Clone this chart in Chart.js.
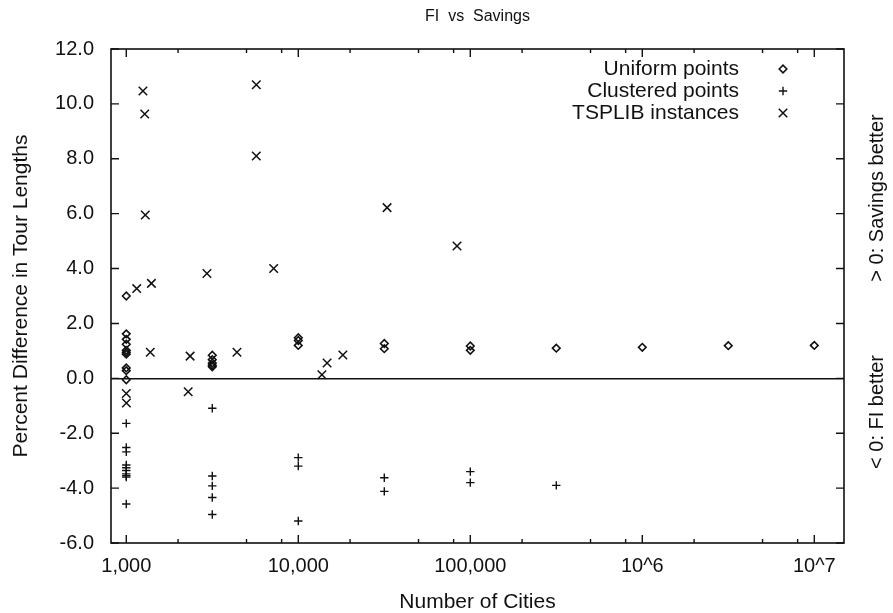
<!DOCTYPE html>
<html>
<head>
<meta charset="utf-8">
<script src="https://cdn.jsdelivr.net/npm/chart.js@4/dist/chart.umd.min.js"></script>
<style>
html,body{margin:0;padding:0;background:#fff;}
canvas{display:block;}
</style>
</head>
<body>
<canvas id="c" width="893" height="613"></canvas>
<script>
// ---- data ----
const seriesLabels = ["Uniform points", "Clustered points", "TSPLIB instances"];

const uniformN    = [1000,1000,1000,1000,1000,1000,1000,1000,1000,1000,
                     3162,3162,3162,3162,3162,
                     10000,10000,10000,
                     31623,31623,
                     100000,100000,
                     316228, 1000000, 3162278, 10000000];
const uniformVals = [3.0,1.62,1.42,1.24,1.02,0.95,0.88,0.38,0.28,-0.05,
                     0.84,0.68,0.56,0.48,0.42,
                     1.48,1.38,1.20,
                     1.27,1.08,
                     1.18,1.02,
                     1.10, 1.13, 1.19, 1.20];

const clusteredN    = [1000,1000,1000,1000,1000,1000,1000,1000,1000,1000,
                       3162,3162,3162,3162,3162,
                       10000,10000,10000,
                       31623,31623,
                       100000,100000,
                       316228];
const clusteredVals = [-1.64,-2.52,-2.68,-3.16,-3.26,-3.36,-3.48,-3.55,-3.60,-4.58,
                       -1.09,-3.56,-3.92,-4.34,-4.96,
                       -2.89,-3.20,-5.20,
                       -3.62,-4.12,
                       -3.40,-3.80,
                       -3.90];

const tspN    = [1000,1002,1250,1280,1150,1400,1379,1290,2350,2290,2944,4400,5700,5700,7190,13720,14700,18160,32820,83700];
const tspVals = [-0.55,-0.90,10.47,9.63,3.27,3.46,0.95,5.95,0.81,-0.49,3.82,0.95,10.70,8.10,4.00,0.13,0.56,0.85,6.22,4.82];

const xTickValues = [1000, 10000, 100000, 1000000, 10000000];
const xTickLabels = ["1,000", "10,000", "100,000", "10^6", "10^7"];
const xMinorMultipliers = [2, 5, 8];
const yMin = -6, yMax = 12, yStep = 2;

const titleText = "FI  vs  Savings";
const xTitle = "Number of Cities";
const yTitle = "Percent Difference in Tour Lengths";
const rightTop = "> 0: Savings better";
const rightBottom = "< 0: FI better";

// ---- styling ----
const INK = '#111';
const FONT = '"Liberation Sans", Arial, Helvetica, sans-serif';

function pts(xs, ys){ return xs.map((x,i)=>({x:x, y:ys[i]})); }

const styles = [
  {pointStyle:'rectRot', radius:3.8, borderWidth:1.6},
  {pointStyle:'cross',   radius:4.2, borderWidth:1.4},
  {pointStyle:'crossRot',radius:6,   borderWidth:1.5}
];

const decorPlugin = {
  id:'decor',
  afterDraw(chart){
    const ctx = chart.ctx;
    const a = chart.chartArea;
    const xs = chart.scales.x, ys = chart.scales.y;
    ctx.save();
    ctx.strokeStyle = INK;
    ctx.lineWidth = 1.6;
    ctx.strokeRect(a.left, a.top, a.right - a.left, a.bottom - a.top);
    // ticks (inward, mirrored)
    ctx.lineWidth = 1.4;
    ctx.beginPath();
    const majorLen = 8, minorLen = 4;
    for (let d = 0; d < xTickValues.length; d++) {
      const base = xTickValues[d];
      const px = xs.getPixelForValue(base);
      if (px >= a.left && px <= a.right) {
        ctx.moveTo(px, a.bottom); ctx.lineTo(px, a.bottom - majorLen);
        ctx.moveTo(px, a.top); ctx.lineTo(px, a.top + majorLen);
      }
      for (const m of xMinorMultipliers) {
        const v = base * m;
        const p = xs.getPixelForValue(v);
        if (p > a.left && p < a.right) {
          ctx.moveTo(p, a.bottom); ctx.lineTo(p, a.bottom - minorLen);
          ctx.moveTo(p, a.top); ctx.lineTo(p, a.top + minorLen);
        }
      }
    }
    for (let v = yMin; v <= yMax; v += yStep) {
      const py = ys.getPixelForValue(v);
      ctx.moveTo(a.left, py); ctx.lineTo(a.left + majorLen, py);
      ctx.moveTo(a.right, py); ctx.lineTo(a.right - majorLen, py);
    }
    ctx.stroke();

    // texts
    ctx.fillStyle = INK;
    ctx.textAlign = 'center';
    ctx.textBaseline = 'middle';
    ctx.font = '16px ' + FONT;
    ctx.fillText(titleText, (a.left + a.right) / 2, 17);
    ctx.font = '21px ' + FONT;
    ctx.fillText(xTitle, (a.left + a.right) / 2, 602);

    ctx.save();
    ctx.translate(21, (a.top + a.bottom) / 2);
    ctx.rotate(-Math.PI / 2);
    ctx.fillText(yTitle, 0, 0);
    ctx.restore();

    ctx.font = '20px ' + FONT;
    ctx.save();
    ctx.translate(877, 198);
    ctx.rotate(-Math.PI / 2);
    ctx.fillText(rightTop, 0, 0);
    ctx.restore();
    ctx.save();
    ctx.translate(877, 412);
    ctx.rotate(-Math.PI / 2);
    ctx.fillText(rightBottom, 0, 0);
    ctx.restore();

    // legend (text right-aligned, symbol to the right)
    ctx.font = '21px ' + FONT;
    ctx.textAlign = 'right';
    const rowY = [69, 91, 113];
    chart.data.datasets.forEach((ds, i) => {
      ctx.fillStyle = INK;
      ctx.fillText(ds.label, 739, rowY[i]);
      ctx.fillStyle = 'rgba(0,0,0,0)';
      ctx.strokeStyle = INK;
      ctx.lineWidth = ds.borderWidth;
      Chart.helpers.drawPoint(ctx, {
        pointStyle: ds.pointStyle, radius: ds.radius, rotation: 0,
        borderWidth: ds.borderWidth
      }, 783, rowY[i]);
    });
    ctx.restore();
  }
};

const chart = new Chart(document.getElementById('c'), {
  type: 'scatter',
  data: {
    datasets: [
      Object.assign({label: seriesLabels[0], data: pts(uniformN, uniformVals)}, styles[0]),
      Object.assign({label: seriesLabels[1], data: pts(clusteredN, clusteredVals)}, styles[1]),
      Object.assign({label: seriesLabels[2], data: pts(tspN, tspVals)}, styles[2])
    ].map(d => Object.assign(d, {borderColor: INK, backgroundColor: 'rgba(0,0,0,0)', pointHoverRadius: d.radius}))
  },
  options: {
    responsive: false,
    animation: false,
    devicePixelRatio: 1,
    layout: {padding: {top: 49, right: 49, left: 0, bottom: 0}},
    plugins: {legend: {display: false}, tooltip: {enabled: false}, title: {display: false}},
    scales: {
      x: {
        type: 'logarithmic',
        min: 815, max: 1.488e7,
        afterBuildTicks(s){ s.ticks = xTickValues.map(v => ({value: v})); },
        afterFit(s){ s.height = 70; },
        grid: {display: false, drawTicks: false},
        border: {display: false},
        ticks: {
          autoSkip: false, maxRotation: 0, padding: 11,
          color: INK, font: {family: FONT, size: 20},
          callback: (v, i) => xTickLabels[i]
        }
      },
      y: {
        min: yMin, max: yMax,
        afterFit(s){ s.width = 111; },
        grid: {
          drawTicks: false,
          lineWidth: 1.6,
          color: c => (c.tick && c.tick.value === 0) ? INK : 'rgba(0,0,0,0)'
        },
        border: {display: false},
        ticks: {
          stepSize: yStep, padding: 17,
          color: INK, font: {family: FONT, size: 20},
          callback: v => v.toFixed(1)
        }
      }
    }
  },
  plugins: [decorPlugin]
});
</script>
</body>
</html>
